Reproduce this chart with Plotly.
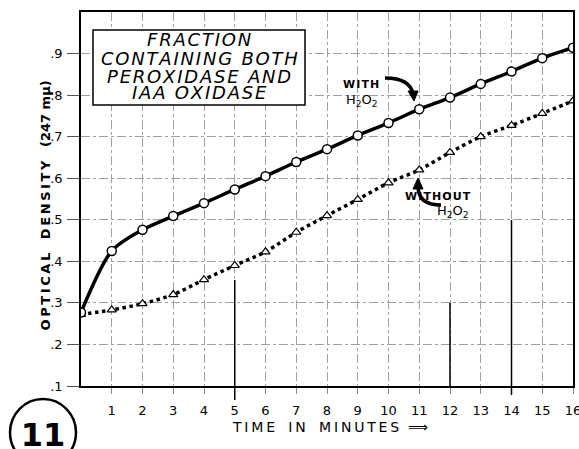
import plotly.graph_objects as go

# ---- data ----
time_min = [0, 1, 2, 3, 4, 5, 6, 7, 8, 9, 10, 11, 12, 13, 14, 15, 16]
with_h2o2 = [0.277, 0.425, 0.476, 0.509, 0.540, 0.573, 0.605, 0.639, 0.670, 0.703,
             0.733, 0.766, 0.794, 0.827, 0.857, 0.889, 0.914]
without_h2o2 = [0.272, 0.283, 0.298, 0.320, 0.356, 0.390, 0.423, 0.470, 0.510, 0.549,
                0.589, 0.620, 0.662, 0.700, 0.727, 0.756, 0.786]
x_ticks = list(range(1, 17))
x_labels = [str(v) for v in x_ticks]
y_ticks = [0.1, 0.2, 0.3, 0.4, 0.5, 0.6, 0.7, 0.8, 0.9]
y_labels = [".1", ".2", ".3", ".4", ".5", ".6", ".7", ".8", ".9"]
figure_number = "11"

W, H = 579, 449
L, R, T, B = 81, 6, 12, 63
PW, PH = W - L - R, H - T - B
X0, X1, Y0, Y1 = 0, 16, 0.1, 1.0


def px(x):  # pixel -> paper x
    return (x - L) / PW


def py(y):  # pixel -> paper y
    return (H - B - y) / PH


FONT = "DejaVu Sans"

fig = go.Figure()
fig.add_trace(go.Scatter(
    x=time_min, y=without_h2o2, mode="lines+markers",
    line=dict(color="black", width=3.5, dash="dot", shape="spline", smoothing=0.8),
    marker=dict(symbol="triangle-up", size=8, color="white",
                line=dict(color="black", width=1.2)),
    showlegend=False))
fig.add_trace(go.Scatter(
    x=time_min, y=with_h2o2, mode="lines+markers",
    line=dict(color="black", width=3.5, shape="spline", smoothing=0.8),
    marker=dict(symbol="circle", size=9, color="white",
                line=dict(color="black", width=1.5)),
    showlegend=False))

grid = dict(showgrid=True, gridcolor="#a0a0a0", gridwidth=1, griddash="dashdot")

fig.update_xaxes(range=[X0, X1], tickvals=x_ticks, ticktext=x_labels, automargin=False,
                 ticks="outside", ticklen=6, tickcolor="#888", ticklabelstandoff=6,
                 ticklabeloverflow="allow",
                 showline=True, linecolor="black", linewidth=1.5, mirror=True,
                 zeroline=False, tickfont=dict(family=FONT, size=13, color="black"),
                 **grid)
fig.update_yaxes(range=[Y0, Y1], tickvals=y_ticks, ticktext=y_labels, automargin=False,
                 ticks="outside", ticklen=12, tickcolor="#555", ticklabelstandoff=2,
                 showline=True, linecolor="black", linewidth=1.5, mirror=True,
                 zeroline=False, tickfont=dict(family=FONT, size=13, color="black"),
                 **grid)

shapes = []
# heavier paper lines
for xv, ytop, ybot in [(5, 280, 400), (12, 303, 386), (14, 220, 395)]:
    shapes.append(dict(type="line", xref="paper", yref="paper",
                       x0=xv / 16, x1=xv / 16, y0=py(ytop), y1=py(ybot),
                       line=dict(color="black", width=1.5), layer="above"))
# title box
shapes.append(dict(type="rect", xref="paper", yref="paper",
                   x0=px(93), x1=px(305), y0=py(30), y1=py(105),
                   fillcolor="white", line=dict(color="black", width=1.5), layer="above"))
# figure number circle with its number
shapes.append(dict(type="circle", xref="paper", yref="paper",
                   x0=px(10), x1=px(76), y0=py(399), y1=py(466),
                   line=dict(color="black", width=2.5), layer="above",
                   label=dict(text=figure_number, textposition="middle center",
                              font=dict(family=FONT, size=32, color="black", weight="bold"))))


def P(x, y):
    return f"{px(x):.5f},{py(y):.5f}"


# curved arrow for WITH
shapes.append(dict(type="path", xref="paper", yref="paper",
                   path=f"M {P(385, 78)} Q {P(410, 78)} {P(413, 94)}",
                   line=dict(color="black", width=3.5), layer="above"))
shapes.append(dict(type="path", xref="paper", yref="paper",
                   path=f"M {P(408, 91)} L {P(418, 91)} L {P(414, 101)} Z",
                   fillcolor="black", line=dict(color="black", width=1), layer="above"))
# curved arrow for WITHOUT
shapes.append(dict(type="path", xref="paper", yref="paper",
                   path=f"M {P(441, 205)} Q {P(418, 205)} {P(418, 186)}",
                   line=dict(color="black", width=3.5), layer="above"))
shapes.append(dict(type="path", xref="paper", yref="paper",
                   path=f"M {P(413, 189)} L {P(423, 189)} L {P(418, 178)} Z",
                   fillcolor="black", line=dict(color="black", width=1), layer="above"))

fig.update_layout(shapes=shapes)

hs = "\u200a"
sp = "\u2009"
ann = []
title_lines = [("FRACTION", 40), ("CONTAINING BOTH", 58), ("PEROXIDASE AND", 76), ("IAA OXIDASE", 93)]
for txt, yc in title_lines:
    ann.append(dict(x=px(199), y=py(yc), xref="paper", yref="paper", showarrow=False,
                    text="<i>" + hs.join(txt) + "</i>", xanchor="center", yanchor="middle",
                    font=dict(family=FONT, size=18, color="black")))

ann.append(dict(x=px(361), y=py(76), xref="paper", yref="paper", showarrow=False,
                text="<b>" + hs.join("WITH") + "</b>", font=dict(family=FONT, size=11, color="black")))
ann.append(dict(x=px(362), y=py(90), xref="paper", yref="paper", showarrow=False,
                text="H<sub>2</sub>O<sub>2</sub>", font=dict(family=FONT, size=13, color="black")))
ann.append(dict(x=px(473), y=py(196), xref="paper", yref="paper", showarrow=False,
                text="<b>" + hs.join("WITHOUT") + "</b>", font=dict(family=FONT, size=11, color="black")))
ann.append(dict(x=px(471), y=py(212), xref="paper", yref="paper", showarrow=False,
                text="H<sub>2</sub>O<sub>2</sub>", font=dict(family=FONT, size=13, color="black")))

xt = sp.join("TIME") + "   " + sp.join("IN") + "   " + sp.join("MINUTES") + "  \u27f9"
ann.append(dict(x=px(330), y=py(437), xref="paper", yref="paper", showarrow=False,
                text=xt, font=dict(family=FONT, size=14, color="black")))
yt = sp.join("OPTICAL") + "   " + sp.join("DENSITY") + "   (247 mμ)"
ann.append(dict(x=px(35), y=py(206), xref="paper", yref="paper", showarrow=False,
                text=f"<b>{yt}</b>", textangle=-90,
                font=dict(family=FONT, size=13, color="black")))

fig.update_layout(annotations=ann, width=W, height=H,
                  margin=dict(l=L, r=R, t=T, b=B, autoexpand=False),
                  paper_bgcolor="white", plot_bgcolor="white")

fig.write_html("out.html", config={"displayModeBar": False},
               post_script="document.body.style.margin='0';document.body.style.overflow='hidden';")
